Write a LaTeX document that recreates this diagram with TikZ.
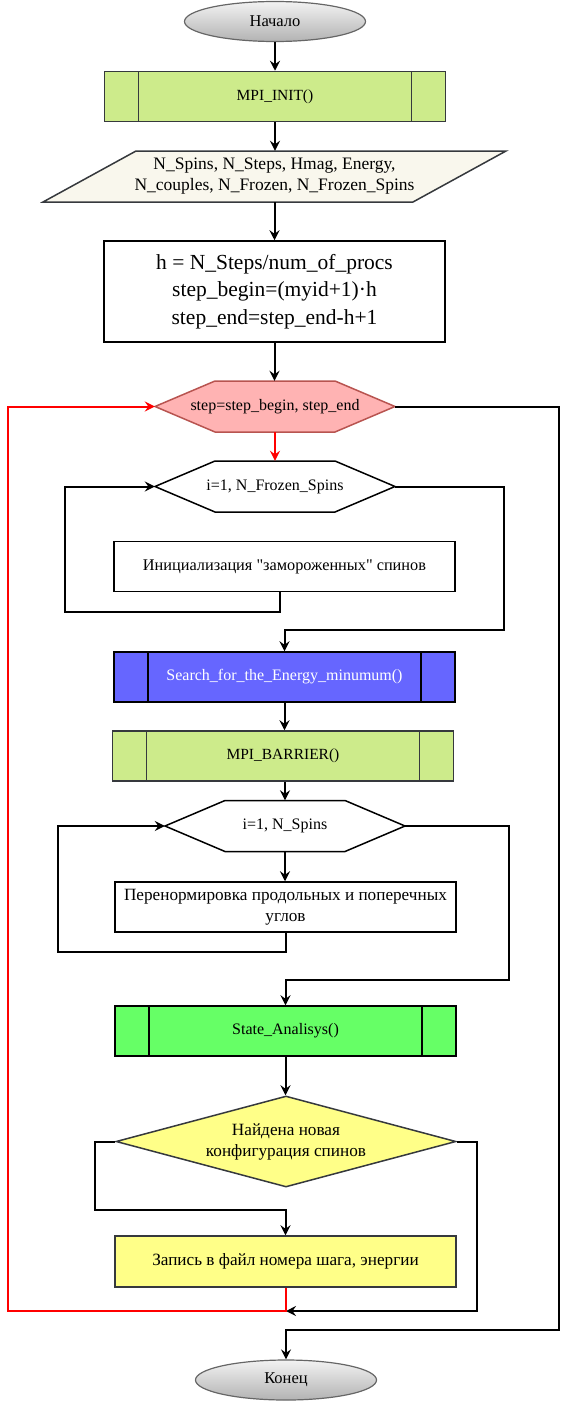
\documentclass[tikz,border=0pt]{standalone}
\usepackage{fontspec}
\setmainfont{Liberation Serif}[Ligatures=TeXOff]
\usetikzlibrary{arrows.meta,shapes.geometric}

\definecolor{edgegray}{HTML}{36393D}
\definecolor{termgray}{HTML}{666666}
\definecolor{mpigreen}{HTML}{CDEB8B}
\definecolor{inputbeige}{HTML}{F9F7ED}
\definecolor{looppink}{HTML}{FFB3B3}
\definecolor{loopborder}{HTML}{B85450}
\definecolor{searchblue}{HTML}{6666FF}
\definecolor{stategreen}{HTML}{66FF66}
\definecolor{noteyellow}{HTML}{FFFF88}

\begin{document}
\begin{tikzpicture}[x=1pt, y=-1pt,
  >={Stealth[length=10pt, width=10pt, inset=3.5pt]},
  every node/.style={font=\fontsize{16}{20}\selectfont, align=center, inner sep=0pt},
  cyr/.style={font=\fontsize{17.2}{21}\selectfont},
  flow/.style={->, line width=2pt},
  terminal/.style={ellipse, draw=termgray, line width=1.2pt, top color=white!95!black, bottom color=white!70!black, minimum width=181pt, minimum height=40pt, font=\fontsize{16.5}{20}\selectfont},
  process/.style={rectangle, draw=black, line width=1.5pt, minimum width=341pt, minimum height=50pt},
  subproc/.style={process, draw=#1, path picture={\draw[#1, line width=1.5pt] ([xshift=34pt]path picture bounding box.north west) -- ([xshift=34pt]path picture bounding box.south west) ([xshift=-34pt]path picture bounding box.north east) -- ([xshift=-34pt]path picture bounding box.south east);}},
  loophead/.style={minimum width=240pt, minimum height=51pt},
  decision/.style={diamond, draw=edgegray, line width=1.5pt, fill=noteyellow, aspect=3.74, minimum width=340pt, minimum height=91pt}
]
\useasboundingbox (0,0) rectangle (569,1402);

\node[terminal] (start) at (275,21.5) {Начало};
\node[subproc=edgegray, fill=mpigreen, font=\fontsize{15.5}{18}\selectfont] (init) at (275,96.5) {MPI\_INIT()};

\draw[edgegray, fill=inputbeige, line width=1.5pt] (136,151) -- (506,151) -- (413,202) -- (43,202) -- cycle;
\node[minimum width=463pt, minimum height=51pt, font=\fontsize{17.5}{21}\selectfont] (input) at (274.5,176.5) {N\_Spins, N\_Steps, Hmag, Energy,\\N\_couples, N\_Frozen, N\_Frozen\_Spins};

\node[process, minimum height=101pt, font=\fontsize{21.5}{27.5}\selectfont] (calc) at (274.5,291.5) {h = N\_Steps/num\_of\_procs\\step\_begin=(myid+1)·h\\step\_end=step\_end-h+1};

\draw[loopborder, fill=looppink, line width=1.5pt] (155,406.5) -- (215,381) -- (335,381) -- (395,406.5) -- (335,432) -- (215,432) -- cycle;
\node[loophead] (stepLoop) at (275,406.5) {step=step\_begin, step\_end};

\draw[black, fill=white, line width=1.5pt] (155,486.5) -- (215,461) -- (335,461) -- (395,486.5) -- (335,512) -- (215,512) -- cycle;
\node[loophead] (frozenLoop) at (275,486.5) {i=1, N\_Frozen\_Spins};

\node[process, font=\fontsize{16.3}{20}\selectfont] (frozenInit) at (284.5,566.5) {Инициализация "замороженных" спинов};
\node[subproc=black, fill=searchblue, text=white] (search) at (284.5,677) {Search\_for\_the\_Energy\_minumum()};
\node[subproc=edgegray, fill=mpigreen, font=\fontsize{15.5}{18}\selectfont] (barrier) at (283,756) {MPI\_BARRIER()};

\draw[black, fill=white, line width=1.5pt] (165,826) -- (225,800.5) -- (345,800.5) -- (405,826) -- (345,851.5) -- (225,851.5) -- cycle;
\node[loophead] (spinsLoop) at (285,826) {i=1, N\_Spins};

\node[process, cyr] (renorm) at (285.5,907) {Перенормировка продольных и поперечных\\углов};
\node[subproc=black, fill=stategreen] (state) at (285.5,1031) {State\_Analisys()};
\node[decision, cyr] (found) at (286,1141.5) {Найдена новая\\конфигурация спинов};
\node[process, draw=edgegray, fill=noteyellow, minimum height=51pt, cyr] (record) at (285.5,1261.5) {Запись в файл номера шага, энергии};
\node[terminal] (stop) at (286,1380) {Конец};
\coordinate (merge) at (286,1311);

\draw[flow] (start.south) -- (start.south |- init.north);
\draw[flow] (init.south) -- (init.south |- input.north);
\draw[flow] (input.south) -- (input.south |- calc.north);
\draw[flow] (calc.south) -- (calc.south |- stepLoop.north);
\draw[flow, red] (stepLoop.south) -- (frozenLoop.north);
\draw[flow] ([xshift=-5pt]frozenInit.south) -- ++(0,20) -- ++(-215,0) |- (frozenLoop.west);
\draw[flow] (frozenLoop.east) -- ++(109,0) |- ([yshift=21pt]search.north) -- (search.north);
\draw[flow] (search.south) -- (search.south |- barrier.north);
\draw[flow] (spinsLoop.north |- barrier.south) -- (spinsLoop.north);
\draw[flow] (spinsLoop.south) -- (spinsLoop.south |- renorm.north);
\draw[flow] (renorm.south) -- ++(0,19) -- ++(-227.5,0) |- (spinsLoop.west);
\draw[flow] (spinsLoop.east) -- ++(104,0) |- ([yshift=25pt]state.north) -- (state.north);
\draw[flow] (state.south) -- (state.south |- found.north);
\draw[flow] (found.west) -- ++(-20,0) |- ([yshift=25pt]record.north) -- (record.north);
\draw[flow] (found.east) -- ++(20,0) |- (merge);
\draw[flow, red] (record.south) |- (8,1311) |- (stepLoop.west);
\draw[flow] (stepLoop.east) -- ++(164,0) |- ([yshift=29pt]stop.north) -- (stop.north);
\end{tikzpicture}
\end{document}
